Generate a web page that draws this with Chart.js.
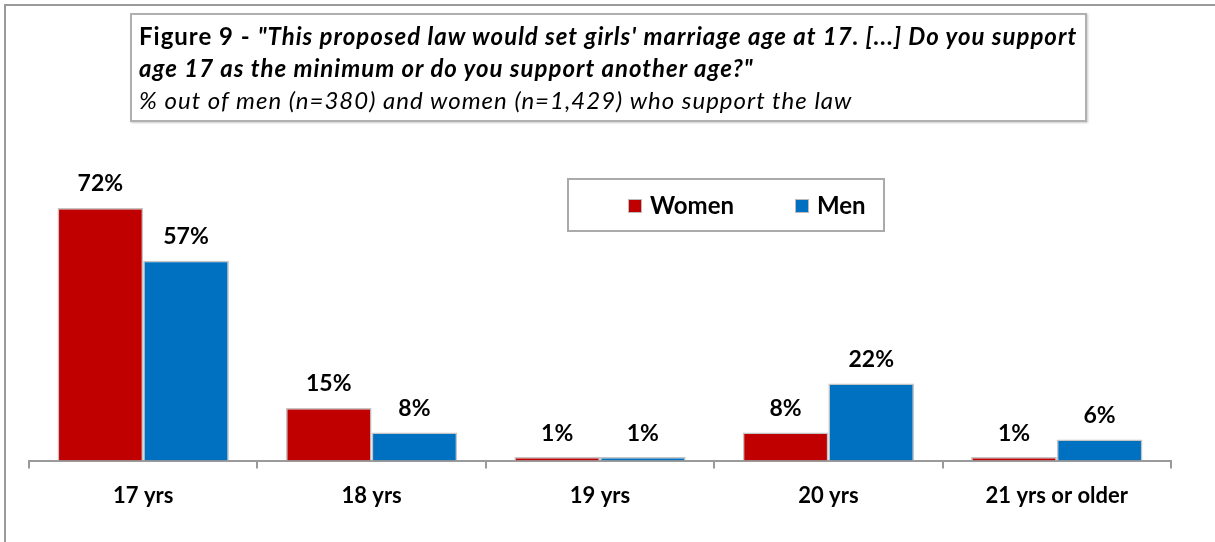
<!DOCTYPE html>
<html>
<head>
<meta charset="utf-8">
<script src="https://cdn.jsdelivr.net/npm/chart.js@4"></script>
<style>
  html, body { margin: 0; padding: 0; background: #fff; }
  #wrap { position: relative; width: 1215px; height: 542px; overflow: hidden; font-family: Lato, "Open Sans", sans-serif; }
  #frame { position: absolute; left: 4px; top: 4px; right: -10px; bottom: -10px; border-top: 2px solid #9a9a9a; border-left: 2px solid #9a9a9a; }
  #titulo { position: absolute; left: 130px; top: 13px; width: 957px; height: 109px; border: 2px solid #b0b0b0; box-shadow: 1px 1px 2px #ccc; background: #fff; box-sizing: border-box; padding: 5px 0 0 7px; font-size: 24px; letter-spacing: 1px; line-height: 32px; color: #000; white-space: nowrap; }
  #titulo b { font-weight: bold; }
  #titulo i { font-style: italic; }
  #leyenda { position: absolute; left: 567px; top: 178px; width: 318px; height: 54px; border: 2px solid #aaa; box-sizing: border-box; background: #fff; font-weight: bold; font-size: 24px; }
  .item { position: absolute; top: 11px; line-height: 28px; }
  .item span { display: inline-block; width: 12px; height: 12px; border: 1px solid #bbb; margin-right: 8px; vertical-align: 1px; }
  canvas { position: absolute; left: 0; top: 0; }
</style>
</head>
<body>
<div id="wrap">
  <canvas id="grafica" width="1215" height="542"></canvas>
  <div id="frame"></div>
  <div id="titulo">
    <b>Figure 9 - <i>"This proposed law would set girls' marriage age at 17. [...] Do you support<br>age 17 as the minimum or do you support another age?"</i></b><br>
    <i>% out of men (n=380) and women (n=1,429) who support the law</i>
  </div>
  <div id="leyenda"></div>
</div>
<script>
const categorias = ['17 yrs', '18 yrs', '19 yrs', '20 yrs', '21 yrs or older'];
const mujeres = [72, 15, 1, 8, 1];
const hombres = [57, 8, 1, 22, 6];
const colores = ['#C00000', '#0070C0'];

// etiquetas de porcentaje encima de cada barra
const etiquetas = {
    id: 'etiquetas',
    afterDatasetsDraw(chart) {
        const ctx = chart.ctx;
        ctx.save();
        ctx.font = 'bold 23px Lato, sans-serif';
        ctx.fillStyle = '#000';
        ctx.textAlign = 'center';
        ctx.textBaseline = 'middle';
        chart.data.datasets.forEach((ds, i) => {
            chart.getDatasetMeta(i).data.forEach((barra, j) => {
                ctx.fillText(ds.data[j] + '%', barra.x, barra.y - 24);
            });
        });
        ctx.restore();
    }
};

const grafica = new Chart(document.getElementById('grafica'), {
    type: 'bar',
    data: {
        labels: categorias,
        datasets: [
            { label: 'Women', data: mujeres, backgroundColor: colores[0], borderColor: '#c4c4c4', borderWidth: 1.5 },
            { label: 'Men', data: hombres, backgroundColor: colores[1], borderColor: '#c4c4c4', borderWidth: 1.5 }
        ]
    },
    options: {
        responsive: false,
        animation: false,
        layout: { padding: { top: 180, left: 29, right: 44, bottom: 19 } },
        datasets: { bar: { categoryPercentage: 0.75, barPercentage: 1.0 } },
        plugins: {
            legend: { display: false },
            tooltip: { enabled: false }
        },
        scales: {
            x: {
                offset: true,
                grid: { display: true, drawOnChartArea: false, drawTicks: true, tickLength: 8, offset: true, color: '#9a9a9a', lineWidth: 2 },
                border: { display: true, color: '#9a9a9a', width: 2 },
                ticks: { color: '#000', padding: 14, font: { family: 'Lato, sans-serif', size: 22, weight: 'bold' } }
            },
            y: {
                display: false,
                min: 0,
                max: 80
            }
        }
    },
    plugins: [etiquetas]
});

// leyenda en html a partir de los datasets
const leyenda = document.getElementById('leyenda');
const posiciones = [59, 226];
grafica.data.datasets.forEach((ds, i) => {
    const item = document.createElement('div');
    item.className = 'item';
    item.style.left = posiciones[i] + 'px';
    item.innerHTML = `<span style="background:${ds.backgroundColor}"></span>${ds.label}`;
    leyenda.appendChild(item);
});
</script>
</body>
</html>
